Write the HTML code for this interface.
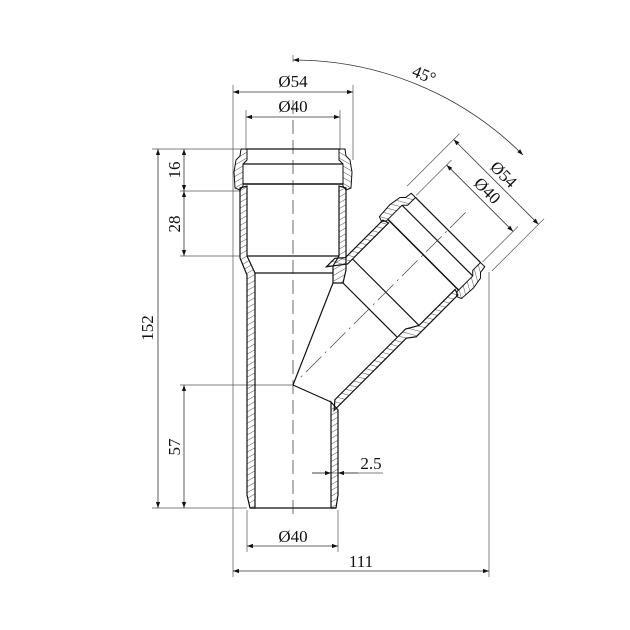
<!DOCTYPE html>
<html><head><meta charset="utf-8"><style>
html,body{margin:0;padding:0;background:#fff}
svg{display:block}
text{font-family:"Liberation Serif",serif;font-size:17px;fill:#111}
</style></head><body>
<svg width="630" height="630" viewBox="0 0 630 630" xmlns="http://www.w3.org/2000/svg">
<defs>
<pattern id="h" patternUnits="userSpaceOnUse" width="5" height="5" patternTransform="rotate(60)">
<line x1="0" y1="0" x2="0" y2="5" stroke="#222" stroke-width="0.8"/>
</pattern>
<marker id="a" viewBox="0 0 10 10" refX="10" refY="5" markerWidth="9" markerHeight="6" orient="auto-start-reverse" markerUnits="userSpaceOnUse">
<path d="M0,1.5 L10,5 L0,8.5 z" fill="#111"/>
</marker>
<g id="ring">
<polygon points="241,149 247,149 247,160 243,164 243,186 240,190 235,188 234,172 236,160 240,156" fill="url(#h)" stroke="#111" stroke-width="1"/>
</g>
</defs>

<g stroke="#555" stroke-width="0.7" fill="none">
<line x1="233" y1="85" x2="233" y2="577"/>
<line x1="353" y1="85" x2="353" y2="160"/>
<line x1="246" y1="110" x2="246" y2="150"/>
<line x1="340" y1="110" x2="340" y2="150"/>
<line x1="152" y1="149" x2="240" y2="149"/>
<line x1="152" y1="508" x2="247" y2="508"/>
<line x1="180" y1="191" x2="240" y2="191"/>
<line x1="180" y1="256" x2="240" y2="256"/>
<line x1="180" y1="385" x2="293" y2="385"/>
<line x1="247" y1="510" x2="247" y2="552"/>
<line x1="338" y1="510" x2="338" y2="552"/>
<line x1="489" y1="272" x2="489" y2="577"/>
<line x1="312" y1="473" x2="383" y2="473"/>
</g>
<g stroke="#333" stroke-width="0.8" fill="none">
<line x1="233" y1="92" x2="353" y2="92" marker-start="url(#a)" marker-end="url(#a)"/>
<line x1="246" y1="117" x2="340" y2="117" marker-start="url(#a)" marker-end="url(#a)"/>
<line x1="158" y1="149" x2="158" y2="508" marker-start="url(#a)" marker-end="url(#a)"/>
<line x1="184" y1="149" x2="184" y2="191" marker-start="url(#a)" marker-end="url(#a)"/>
<line x1="184" y1="191" x2="184" y2="256" marker-start="url(#a)" marker-end="url(#a)"/>
<line x1="184" y1="385" x2="184" y2="508" marker-start="url(#a)" marker-end="url(#a)"/>
<line x1="247" y1="546" x2="338" y2="546" marker-start="url(#a)" marker-end="url(#a)"/>
<line x1="233" y1="571" x2="489" y2="571" marker-start="url(#a)" marker-end="url(#a)"/>
<line x1="312" y1="473" x2="331" y2="473" marker-end="url(#a)"/>
<line x1="358" y1="473" x2="338" y2="473" marker-end="url(#a)"/>
<path d="M293,60 A325,325 0 0 1 523,155" marker-start="url(#a)" marker-end="url(#a)"/>
</g>
<line x1="293" y1="55" x2="293" y2="62" stroke="#555" stroke-width="0.7"/>

<line x1="293" y1="100" x2="293" y2="520" stroke="#444" stroke-width="0.8" stroke-dasharray="14,6"/>

<g stroke="#111" stroke-width="1.2">
<use href="#ring"/>
<use href="#ring" transform="translate(586,0) scale(-1,1)"/>
<polygon points="240,188 247,186 247,256 255,273 255,508 250,508 247,495 247,275 240,258" fill="url(#h)"/>
<polygon points="346,188 339,186 339,256 333,266 333,283 343,283 346,270" fill="url(#h)"/>
<polygon points="331,402 338,410 338,495 336,508 331,508" fill="url(#h)"/>
<line x1="247" y1="149" x2="339" y2="149"/>
<line x1="243" y1="164" x2="343" y2="164"/>
<line x1="243" y1="184" x2="343" y2="184" stroke-width="1.5"/>
<line x1="247" y1="256" x2="339" y2="256"/>
<line x1="255" y1="273" x2="333" y2="273"/>
<line x1="250" y1="508" x2="336" y2="508"/>
<line x1="293" y1="385" x2="333" y2="283"/>
<line x1="293" y1="385" x2="331" y2="402"/>
<line x1="343" y1="283" x2="397" y2="337"/>
</g>

<g transform="translate(448,230) rotate(45)">
<g stroke="#111" stroke-width="1.2">
<use href="#ring" transform="translate(-293,-149)"/>
<use href="#ring" transform="translate(293,-149) scale(-1,1)"/>
<polygon points="-53,39 -47,37 -47,88 -47,95 -60,112 -60,100 -53,92" fill="url(#h)"/>
<polygon points="53,39 47,37 47,88 40,100 40,200 47,208 47,106 53,98" fill="url(#h)"/>
<line x1="-46" y1="0" x2="46" y2="0"/>
<line x1="-50" y1="15" x2="50" y2="15"/>
<line x1="-50" y1="35" x2="50" y2="35" stroke-width="1.5"/>
<line x1="-47" y1="88" x2="47" y2="88"/>
</g>
<line x1="0" y1="-25" x2="0" y2="210" stroke="#444" stroke-width="0.7" stroke-dasharray="22,5,2,5"/>
<g stroke="#555" stroke-width="0.7" fill="none">
<line x1="-60" y1="-2" x2="-60" y2="-76"/>
<line x1="60" y1="-2" x2="60" y2="-76"/>
<line x1="-47" y1="-2" x2="-47" y2="-52"/>
<line x1="47" y1="-2" x2="47" y2="-52"/>
</g>
<g stroke="#333" stroke-width="0.8">
<line x1="-60" y1="-68" x2="60" y2="-68" marker-start="url(#a)" marker-end="url(#a)"/>
<line x1="-47" y1="-45" x2="47" y2="-45" marker-start="url(#a)" marker-end="url(#a)"/>
</g>
<text x="0" y="-73" text-anchor="middle">Ø54</text>
<text x="0" y="-50" text-anchor="middle">Ø40</text>
</g>

<text x="293" y="87" text-anchor="middle">Ø54</text>
<text x="293" y="112" text-anchor="middle">Ø40</text>
<text x="293" y="542" text-anchor="middle">Ø40</text>
<text x="361" y="567" text-anchor="middle">111</text>
<text x="371" y="469" text-anchor="middle">2.5</text>
<text transform="translate(422,80) rotate(22)" text-anchor="middle">45°</text>
<text transform="translate(153,328) rotate(-90)" text-anchor="middle">152</text>
<text transform="translate(180,170) rotate(-90)" text-anchor="middle">16</text>
<text transform="translate(180,224) rotate(-90)" text-anchor="middle">28</text>
<text transform="translate(180,447) rotate(-90)" text-anchor="middle">57</text>
</svg>
</body></html>
